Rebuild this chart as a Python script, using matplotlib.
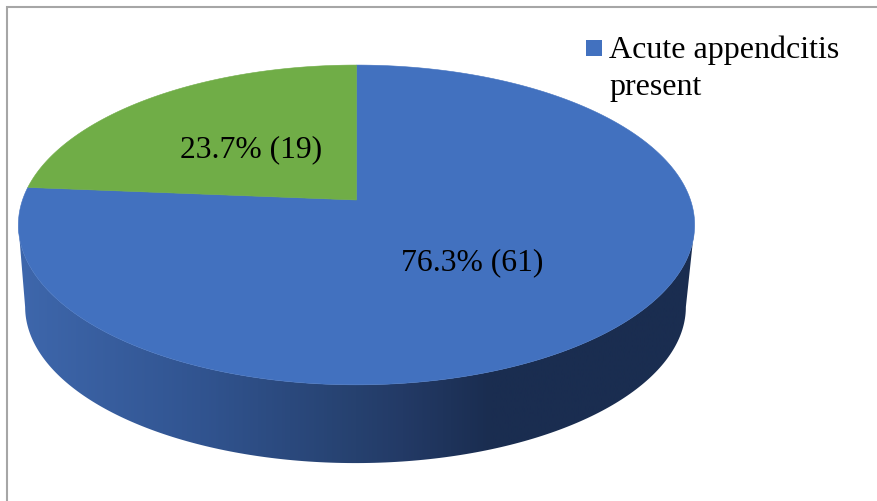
import numpy as np
import matplotlib
matplotlib.use("Agg")
from matplotlib import pyplot as plt
from matplotlib.colors import LinearSegmentedColormap
from matplotlib.patches import Polygon, Rectangle

percents = [76.3, 23.7]
counts = [61, 19]
slice_colors = ["#4271BF", "#70AD47"]
legend_label = "Acute appendcitis\npresent"

plt.rcParams['font.family'] = ['Liberation Serif', 'DejaVu Serif']


def project(theta, drop=0.0, scale=1.0, shift=0.0):
    # tilted disc: a unit circle seen in perspective, apex at (357, 200)
    k = 0.156
    w = 1 + k * np.sin(theta)
    x = 356.5 + shift + scale * 334 * np.cos(theta) / w
    y = 200 + drop - scale * 156 * np.sin(theta) / w
    return np.column_stack([x, y])


fig = plt.figure(figsize=(8.78, 5.01), dpi=100)
ax = fig.add_axes([0, 0, 1, 1])
ax.set_xlim(0, 878)
ax.set_ylim(501, 0)
ax.axis('off')

# outer chart frame, only left and top fall inside the canvas
ax.plot([7.5, 7.5, 878], [501, 6.5, 6.5], color="#a6a6a6", lw=1.5, solid_joinstyle='miter')

# side wall with a left to right shading
angles = np.radians(np.linspace(189, 351, 200))
wall = np.vstack([project(angles), project(angles[::-1], drop=82.5, scale=0.977, shift=-1)])
wall_patch = Polygon(wall, closed=True, fc='none', ec='none')
ax.add_patch(wall_patch)
shade = LinearSegmentedColormap.from_list("wall", [
    (0.0, "#3e67ac"), (0.27, "#315490"), (0.5, "#26416f"), (0.57, "#233a66"), (0.70, "#1a2d50"), (1.0, "#1a2d50")])
img = ax.imshow(np.linspace(0, 1, 512).reshape(1, -1), cmap=shade, aspect='auto',
                extent=(18, 694, 501, 0), zorder=1)
img.set_clip_path(wall_patch)
ax.set_xlim(0, 878)
ax.set_ylim(501, 0)

# top face, slices run clockwise from twelve o'clock
start = np.pi / 2
for pct, color in zip(percents, slice_colors):
    end = start - 2 * np.pi * pct / 100
    arc = project(np.linspace(start, end, 300))
    ax.add_patch(Polygon(np.vstack([[356.5, 200], arc]), closed=True, fc=color, ec=color, lw=0.4, zorder=2))
    start = end

ax.text(472, 270, "{}% ({})".format(percents[0], counts[0]), fontsize=22.8, ha='center', va='baseline', color='black', zorder=3)
ax.text(251.5, 157, "{}% ({})".format(percents[1], counts[1]), fontsize=22.8, ha='center', va='baseline', color='black', zorder=3)

# legend
ax.add_patch(Rectangle((586, 40), 16, 16, fc=slice_colors[0], ec='none', zorder=3))
first, second = legend_label.split("\n")
ax.text(609, 58, first, fontsize=23, ha='left', va='baseline', color='black', zorder=3)
ax.text(609, 95, second, fontsize=23, ha='left', va='baseline', color='black', zorder=3)

fig.savefig("out.png", dpi=100)
